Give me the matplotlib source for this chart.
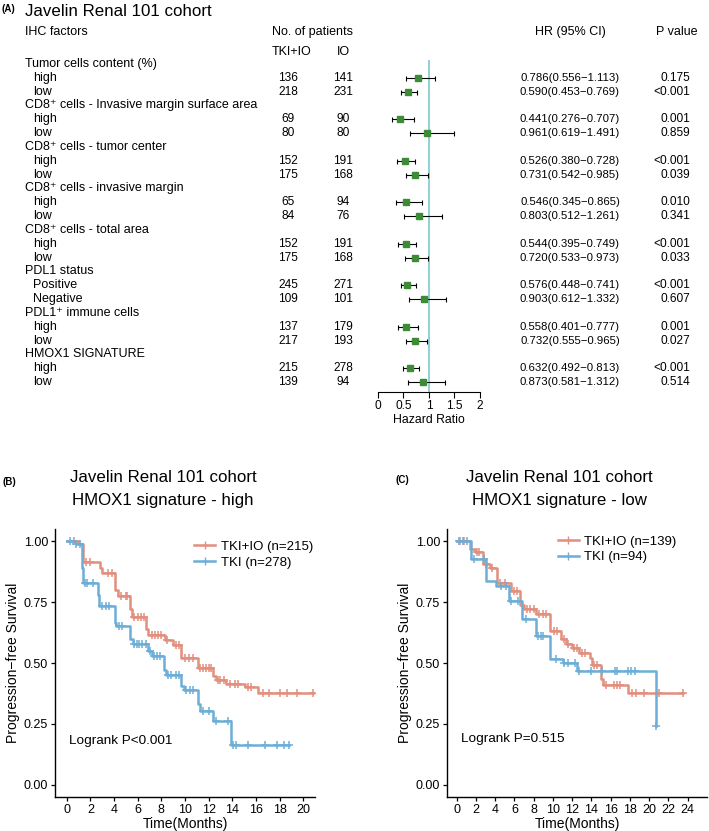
import numpy as np
import matplotlib
matplotlib.use("Agg")
from matplotlib import pyplot as plt
from matplotlib.lines import Line2D

plt.rcParams['font.family'] = ['Liberation Sans', 'DejaVu Sans']

# ---- panel A data (forest plot table)
group_names = ["Tumor cells content (%)",
               "CD8\u207a cells - Invasive margin surface area",
               "CD8\u207a cells - tumor center",
               "CD8\u207a cells - invasive margin",
               "CD8\u207a cells - total area",
               "PDL1 status",
               "PDL1\u207a immune cells",
               "HMOX1 SIGNATURE"]
sub_names = [["high", "low"], ["high", "low"], ["high", "low"], ["high", "low"],
             ["high", "low"], ["Positive", "Negative"], ["high", "low"], ["high", "low"]]
n_tki_io = [136, 218, 69, 80, 152, 175, 65, 84, 152, 175, 245, 109, 137, 217, 215, 139]
n_io = [141, 231, 90, 80, 191, 168, 94, 76, 191, 168, 271, 101, 179, 193, 278, 94]
hr = [0.786, 0.590, 0.441, 0.961, 0.526, 0.731, 0.546, 0.803,
      0.544, 0.720, 0.576, 0.903, 0.558, 0.732, 0.632, 0.873]
ci_lo = [0.556, 0.453, 0.276, 0.619, 0.380, 0.542, 0.345, 0.512,
         0.395, 0.533, 0.448, 0.612, 0.401, 0.555, 0.492, 0.581]
ci_hi = [1.113, 0.769, 0.707, 1.491, 0.728, 0.985, 0.865, 1.261,
         0.749, 0.973, 0.741, 1.332, 0.777, 0.965, 0.813, 1.312]
pvals = ["0.175", "<0.001", "0.001", "0.859", "<0.001", "0.039", "0.010", "0.341",
         "<0.001", "0.033", "<0.001", "0.607", "0.001", "0.027", "<0.001", "0.514"]
hr_ticks = [0, 0.5, 1, 1.5, 2]

# ---- panel B data (HMOX1 high), step times / survival after step
b_io_t = [0, 1.0, 1.4, 2.8, 3.0, 4.1, 4.3, 5.35, 5.5, 6.7, 6.9, 8.3, 9.0, 9.7, 11.1, 12.4, 12.6, 13.5, 15.1, 16.2]
b_io_s = [1.0, 0.99, 0.915, 0.89, 0.87, 0.80, 0.775, 0.72, 0.69, 0.64, 0.615, 0.595, 0.575, 0.52, 0.48, 0.445, 0.43, 0.415, 0.40, 0.375]
b_io_end = 20.9
b_io_cens = [0.6, 1.6, 2.0, 3.5, 3.8, 4.6, 5.0, 5.1, 5.7, 6.0, 6.3, 6.5, 7.2, 7.5, 7.7, 8.0, 8.5, 9.2, 9.5,
             10.0, 10.3, 10.7, 11.3, 11.5, 11.8, 12.0, 12.2, 12.8, 13.0, 13.3, 13.8, 14.2, 14.5, 15.3, 15.6,
             16.6, 17.1, 18.0, 18.6, 19.5, 20.8]
b_tki_t = [0, 0.8, 1.25, 1.35, 2.65, 2.75, 4.05, 4.2, 5.35, 5.6, 6.9, 7.2, 8.2, 8.4, 9.7, 9.9, 11.1, 11.3, 12.4, 13.9]
b_tki_s = [1.0, 0.99, 0.89, 0.83, 0.78, 0.735, 0.665, 0.65, 0.60, 0.58, 0.55, 0.53, 0.47, 0.45, 0.405, 0.39, 0.33, 0.305, 0.26, 0.165]
b_tki_end = 18.8
b_tki_cens = [0.3, 0.8, 1.1, 1.5, 1.7, 2.2, 3.0, 3.3, 3.6, 4.4, 4.7, 5.7, 5.9, 6.1, 6.4, 6.7, 7.0, 7.4, 7.6,
              7.9, 8.6, 8.8, 9.2, 9.5, 10.1, 10.4, 10.7, 11.5, 12.0, 12.6, 13.6, 14.1, 14.3, 15.3, 16.8,
              17.8, 18.4, 18.8]

# ---- panel C data (HMOX1 low)
c_io_t = [0, 1.4, 1.9, 2.7, 3.5, 4.2, 5.6, 6.6, 7.0, 8.2, 9.7, 10.8, 11.4, 12.0, 12.7, 13.8, 14.1, 15.0, 15.2, 17.8]
c_io_s = [1.0, 0.967, 0.955, 0.905, 0.89, 0.83, 0.795, 0.74, 0.72, 0.70, 0.63, 0.60, 0.58, 0.56, 0.54, 0.52, 0.49, 0.435, 0.41, 0.375]
c_io_end = 23.5
c_io_cens = [0.3, 0.8, 2.1, 2.3, 3.1, 3.7, 4.5, 5.0, 6.0, 6.3, 7.3, 7.6, 8.0, 8.6, 9.0, 9.3, 10.1, 10.4,
             11.1, 11.6, 12.2, 12.5, 13.0, 13.3, 14.3, 14.6, 15.5, 16.3, 16.7, 17.0, 18.2, 18.6, 19.5,
             21.0, 23.5]
c_tki_t = [0, 1.5, 3.0, 4.1, 5.4, 6.8, 8.2, 9.7, 11.0, 12.5, 20.7]
c_tki_s = [1.0, 0.925, 0.835, 0.815, 0.755, 0.68, 0.61, 0.515, 0.50, 0.467, 0.24]
c_tki_end = 20.7
c_tki_cens = [0.2, 0.7, 1.1, 1.8, 2.8, 4.6, 5.1, 5.6, 6.4, 7.2, 8.4, 8.8, 9.0, 10.3, 11.1, 11.6, 12.3,
              12.7, 14.0, 15.1, 16.4, 16.7, 17.8, 18.1, 18.5, 20.7]

RED = '#E28F7E'
BLUE = '#6CAED7'

fig = plt.figure(figsize=(7.09, 8.31), dpi=100)

# full-figure layer for the table text, in pixel units
bg = fig.add_axes([0, 0, 1, 1])
bg.set_xlim(0, 709)
bg.set_ylim(831, 0)
bg.axis('off')

row0, step = 64, 13.83
def row_y(i):
    return row0 + i * step

fs = 9.0
fn = 8.6
bg.text(2, 9, "(A)", fontsize=7, fontweight='bold', va='center')
bg.text(25, 11, "Javelin Renal 101 cohort", fontsize=12.2, va='center')
bg.text(25, 32, "IHC factors", fontsize=fs, va='center')
bg.text(312, 32, "No. of patients", fontsize=fs, va='center', ha='center')
bg.text(292, 52, "TKI+IO", fontsize=fs, va='center', ha='center')
bg.text(343, 52, "IO", fontsize=fs, va='center', ha='center')
bg.text(570, 32, "HR (95% CI)", fontsize=fs, va='center', ha='center')
bg.text(677, 32, "P value", fontsize=fs, va='center', ha='center')

forest_rows = []
r = 0
k = 0
for g, subs in zip(group_names, sub_names):
    bg.text(25, row_y(r), g, fontsize=fs, va='center')
    r += 1
    for s in subs:
        y = row_y(r)
        bg.text(33, y, s, fontsize=fs, va='center')
        bg.text(288, y, str(n_tki_io[k]), fontsize=fn, va='center', ha='center')
        bg.text(343, y, str(n_io[k]), fontsize=fn, va='center', ha='center')
        bg.text(570, y, f"{hr[k]:.3f}({ci_lo[k]:.3f}\u2212{ci_hi[k]:.3f})", fontsize=8.2,
                va='center', ha='center')
        bg.text(690, y, pvals[k], fontsize=fn, va='center', ha='right')
        forest_rows.append(r)
        r += 1
        k += 1

# forest axes
top_px, bot_px = 60, 392
fa = fig.add_axes([378 / 709, (831 - bot_px) / 831, 102 / 709, (bot_px - top_px) / 831])
fa.set_xlim(0, 2)
fa.set_ylim((bot_px - row0) / step, (top_px - row0) / step)
fa.axvline(1, color='#86CDD3', lw=1.3, zorder=1)
fa.errorbar(hr, forest_rows,
            xerr=[np.array(hr) - np.array(ci_lo), np.array(ci_hi) - np.array(hr)],
            fmt='none', ecolor='black', elinewidth=0.8, capsize=1.8, capthick=0.8, zorder=2)
fa.plot(hr, forest_rows, 's', color='#3D8B37', ms=4.2, zorder=3)
for sp in ['top', 'right', 'left']:
    fa.spines[sp].set_visible(False)
fa.spines['bottom'].set_bounds(0, 2)
fa.set_yticks([])
fa.set_xticks(hr_ticks)
fa.set_xticklabels(["0", "0.5", "1", "1.5", "2"])
fa.tick_params(axis='x', labelsize=8.6, length=4, width=0.8, pad=2)
fa.set_xlabel("Hazard Ratio", fontsize=8.8, labelpad=1)
fa.patch.set_alpha(0)


def km(ax, t, s, end, cens, color):
    xs = list(t) + [end]
    ys = list(s) + [s[-1]]
    ax.step(xs, ys, where='post', color=color, lw=1.8)
    idx = np.searchsorted(np.array(t), np.array(cens), side='right') - 1
    ax.plot(cens, np.array(s)[idx], '+', color=color, ms=6, mew=1.1, ls='none')


def km_axes(rect, xmax, xticks):
    ax = fig.add_axes(rect)
    ax.set_ylim(-0.05, 1.05)
    ax.set_xlim(xticks[0] - 1.0 * (xticks[1] - xticks[0]) / 2, xmax)
    ax.set_xticks(xticks)
    ax.set_yticks([0, 0.25, 0.5, 0.75, 1.0])
    ax.set_yticklabels(["0.00", "0.25", "0.50", "0.75", "1.00"])
    for sp in ['top', 'right']:
        ax.spines[sp].set_visible(False)
    for sp in ['left', 'bottom']:
        ax.spines[sp].set_linewidth(1.0)
    ax.tick_params(labelsize=9, length=3, width=0.9, colors='black', pad=2)
    ax.set_xlabel("Time(Months)", fontsize=10, labelpad=1)
    ax.set_ylabel("Progression\u2212free Survival", fontsize=10, labelpad=3)
    return ax


# panel B
axb = km_axes([55 / 709, 34 / 831, 260 / 709, 268 / 831], 21.0, list(range(0, 21, 2)))
km(axb, b_io_t, b_io_s, b_io_end, b_io_cens, RED)
km(axb, b_tki_t, b_tki_s, b_tki_end, b_tki_cens, BLUE)
axb.text(0.2, 0.18, "Logrank P<0.001", fontsize=9.7, va='center')
hb = [Line2D([], [], color=RED, lw=1.8, marker='+', ms=6),
      Line2D([], [], color=BLUE, lw=1.8, marker='+', ms=6)]
axb.legend(hb, ["TKI+IO (n=215)", "TKI (n=278)"], loc='upper left', bbox_to_anchor=(0.49, 1.0),
           frameon=False, fontsize=9.5, handlelength=1.6, handletextpad=0.4, labelspacing=0.25)

# panel C
axc = km_axes([447 / 709, 34 / 831, 260 / 709, 268 / 831], 26.0, list(range(0, 25, 2)))
km(axc, c_io_t, c_io_s, c_io_end, c_io_cens, RED)
km(axc, c_tki_t, c_tki_s, c_tki_end, c_tki_cens, BLUE)
axc.text(0.5, 0.19, "Logrank P=0.515", fontsize=9.7, va='center')
hc = [Line2D([], [], color=RED, lw=1.8, marker='+', ms=6),
      Line2D([], [], color=BLUE, lw=1.8, marker='+', ms=6)]
axc.legend(hc, ["TKI+IO (n=139)", "TKI (n=94)"], loc='upper left', bbox_to_anchor=(0.38, 1.02),
           frameon=False, fontsize=9.5, handlelength=1.6, handletextpad=0.4, labelspacing=0.25)

# panel titles
bg.text(9, 482, "(B)", fontsize=7, fontweight='bold', va='center', ha='center')
bg.text(163, 477, "Javelin Renal 101 cohort", fontsize=12.2, va='center', ha='center')
bg.text(163, 501, "HMOX1 signature - high", fontsize=12.2, va='center', ha='center')
bg.text(402, 480, "(C)", fontsize=7, fontweight='bold', va='center', ha='center')
bg.text(559, 477, "Javelin Renal 101 cohort", fontsize=12.2, va='center', ha='center')
bg.text(559, 501, "HMOX1 signature - low", fontsize=12.2, va='center', ha='center')

fig.savefig("out.png", dpi=100)
